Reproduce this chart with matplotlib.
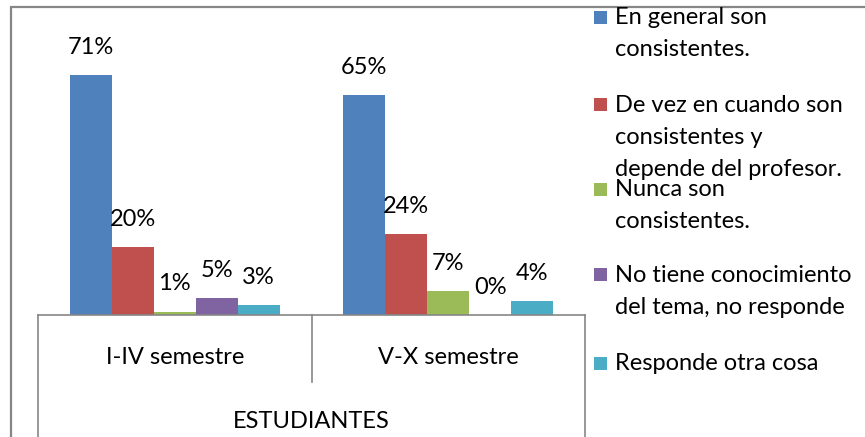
import matplotlib
matplotlib.use("Agg")
import matplotlib.pyplot as plt
from matplotlib.patches import Rectangle
from matplotlib.lines import Line2D
import numpy as np

categories = ["I-IV semestre", "V-X semestre"]
axis_title = "ESTUDIANTES"
series_names = [
    "En general son\nconsistentes.",
    "De vez en cuando son\nconsistentes y\ndepende del profesor.",
    "Nunca son\nconsistentes.",
    "No tiene conocimiento\ndel tema, no responde",
    "Responde otra cosa",
]
values = [
    [71, 65],
    [20, 24],
    [1, 7],
    [5, 0],
    [3, 4],
]
colors = ["#4F81BD", "#C0504D", "#9BBB59", "#8064A2", "#4BACC6"]

plt.rcParams['font.family'] = ['Lato', 'DejaVu Sans']
FS = 17

W, H = 865, 437
fig = plt.figure(figsize=(W / 100, H / 100), dpi=100)

def fx(px):
    return px / W

def fy(py):
    return 1 - py / H

# figure border
fig.patches.append(Rectangle((fx(11), fy(460)), fx(900) - fx(11), fy(7) - fy(460),
                             transform=fig.transFigure, fill=False,
                             edgecolor="#868686", linewidth=1.6))

ax_left, ax_right, ax_top, ax_bot = 38, 585, 20, 315
ax = fig.add_axes([fx(ax_left), fy(ax_bot), fx(ax_right) - fx(ax_left), fy(ax_top) - fy(ax_bot)])
ax.set_xlim(-0.5, 1.5)
ax.set_ylim(0, (ax_bot - ax_top) / 3.38)
for s in ax.spines.values():
    s.set_visible(False)
ax.set_xticks([])
ax.set_yticks([])
ax.patch.set_alpha(0)

n = len(series_names)
bw = 0.768 / n
x = np.arange(len(categories))
for i in range(n):
    pos = x - 0.768 / 2 + bw * (i + 0.5)
    bars = ax.bar(pos, values[i], width=bw, color=colors[i], edgecolor="none")
    for b, v in zip(bars, values[i]):
        ax.annotate(f"{v}%", (b.get_x() + b.get_width() / 2, v), xytext=(0, 20),
                    textcoords="offset points", ha="center", va="center",
                    fontsize=FS, color="#000000")

# category table lines
lc = "#868686"
def fline(x0, y0, x1, y1):
    fig.add_artist(Line2D([fx(x0), fx(x1)], [fy(y0), fy(y1)], transform=fig.transFigure,
                          color=lc, linewidth=1.2))

fline(ax_left, ax_bot, ax_right, ax_bot)
fline(ax_left, ax_bot, ax_left, 440)
fline(ax_right, ax_bot, ax_right, 440)
mid = (ax_left + ax_right) / 2
fline(mid, ax_bot, mid, 382)

for xi, c in zip(x, categories):
    xc = ax_left + (xi + 0.5) * (ax_right - ax_left) / 2
    fig.text(fx(xc), fy(357), c, ha="center", va="center", fontsize=FS)
fig.text(fx(mid), fy(421), axis_title, ha="center", va="center", fontsize=FS)

# legend
entry_y = [18, 105, 190, 275, 364]
pitch = 32
for name, col, y0 in zip(series_names, colors, entry_y):
    fig.patches.append(Rectangle((fx(594), fy(y0 + 6)), fx(13), 13 / H,
                                 transform=fig.transFigure, facecolor=col, edgecolor="none"))
    for k, line in enumerate(name.split("\n")):
        fig.text(fx(615), fy(y0 + k * pitch), line, ha="left", va="center", fontsize=FS)

fig.savefig("out.png", dpi=100)
